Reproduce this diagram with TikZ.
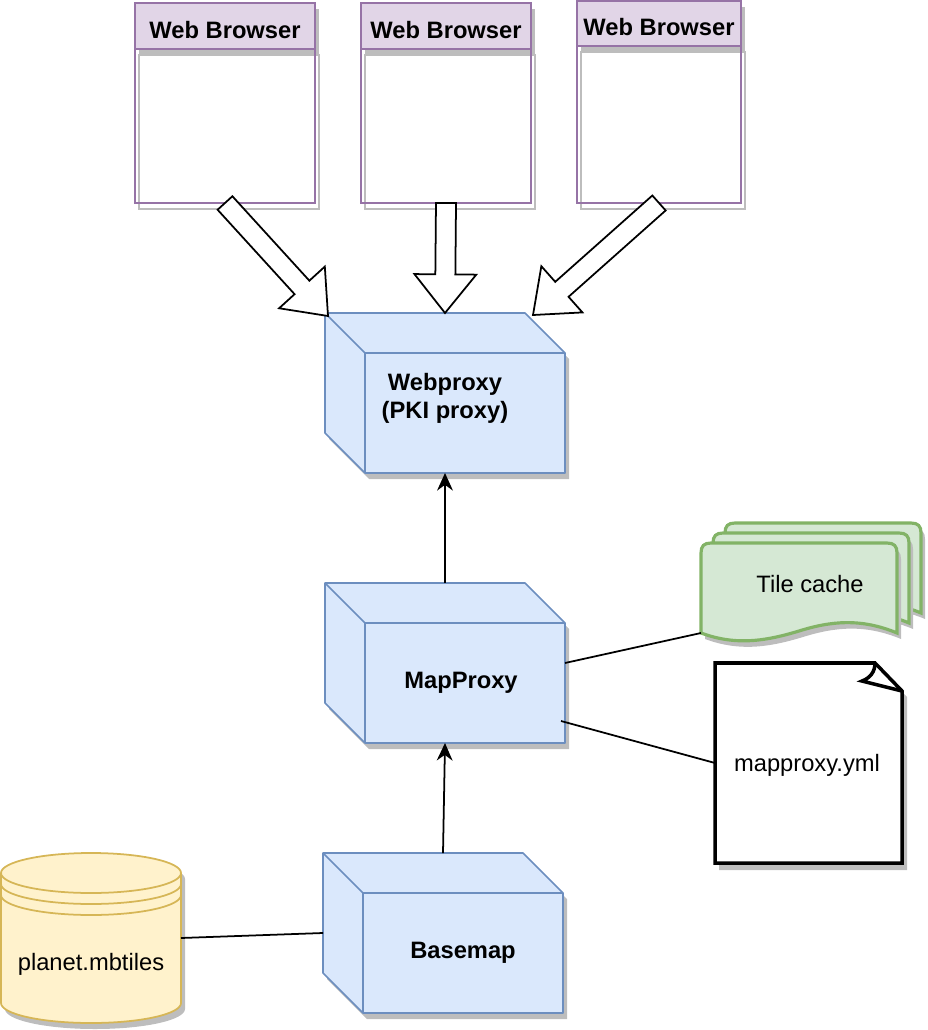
\documentclass[tikz,border=0pt]{standalone}
\usepackage{fontspec}
\setmainfont{Liberation Sans}
\usepackage{tikz}
\usetikzlibrary{arrows.meta, calc, positioning}

\definecolor{shadowgray}{HTML}{BDBDBD}
\definecolor{cubefill}{HTML}{DAE8FC}
\definecolor{cubeline}{HTML}{6C8EBF}
\definecolor{browserfill}{HTML}{E1D5E7}
\definecolor{browserline}{HTML}{9673A6}
\definecolor{tilefill}{HTML}{D5E8D4}
\definecolor{tileline}{HTML}{82B366}
\definecolor{dbfill}{HTML}{FFF2CC}
\definecolor{dbline}{HTML}{D6B656}

\tikzset{
  anchorbox/.style={rectangle, inner sep=0pt, outer sep=0pt},
  labeltext/.style={align=center, inner sep=0pt, font=\fontsize{13.5}{15.9}\selectfont},
  boldtext/.style={labeltext, font=\fontsize{13.5}{15.9}\selectfont\bfseries},
  cubeline/.style={draw=cubeline, line width=0.9pt, line join=round},
  wire/.style={black, line width=1pt},
  blockline/.style={draw=black, fill=white, line width=1pt, line join=miter},
}

% name, centre x, centre y, width, height, header height
\newcommand{\browserbox}[6]{
  \begin{scope}[shift={(#2,#3)}]
    \draw[shadowgray, line width=0.9pt] (-#4/2+4,-#5/2+#6+6) rectangle (#4/2+4,#5/2+6);
    \fill[shadowgray] (-#4/2+4,-#5/2+6) rectangle (#4/2+4,-#5/2+#6+6);
  \end{scope}
  \node[anchorbox, draw=browserline, line width=1.1pt, minimum width=#4*0.02cm, minimum height=#5*0.02cm] (#1) at (#2,#3) {};
  \node[anchorbox, draw=browserline, fill=browserfill, line width=1.1pt, minimum width=#4*0.02cm, minimum height=#6*0.02cm, below=0pt of #1.north] (#1head) {};
  \node[boldtext] (#1label) at ($(#1head.center)+(0,4)$) {Web Browser};
}
% name, centre x, centre y
\newcommand{\cubebox}[3]{
  \begin{scope}[shift={(#2,#3)}]
    \fill[shadowgray] (-116,-74) -- (84,-74) -- (124,-34) -- (124,86) -- (-76,86) -- (-116,46) -- cycle;
    \filldraw[fill=cubefill, cubeline] (-120,-80) -- (80,-80) -- (120,-40) -- (120,80) -- (-80,80) -- (-120,40) -- cycle;
    \draw[cubeline] (-120,-80) -- (-80,-40) -- (120,-40);
    \draw[cubeline] (-80,-40) -- (-80,80);
  \end{scope}
  \node[anchorbox, minimum width=4.8cm, minimum height=3.2cm] (#1) at (#2,#3) {};
}
% tail, tip
\newcommand{\blockarrow}[2]{
  \coordinate (headbase) at ($(#2)!22pt!(#1)$);
  \draw[blockline] ($(#1)!5.7pt!-90:(#2)$) -- ($(headbase)!5.7pt!90:(#1)$) -- ($(headbase)!17.6pt!90:(#1)$) -- (#2)
    -- ($(headbase)!17.6pt!-90:(#1)$) -- ($(headbase)!5.7pt!-90:(#1)$) -- ($(#1)!5.7pt!90:(#2)$) -- cycle;
}

\begin{document}
\begin{tikzpicture}[x=0.02cm, y=-0.02cm, >={Stealth[length=10pt, width=9pt]}]
  \useasboundingbox (0,0) rectangle (928,1030);

  % browsers
  \browserbox{browserone}{225}{103}{180}{200}{46}
  \browserbox{browsertwo}{446}{103}{170}{200}{46}
  \browserbox{browserthree}{659}{102}{164}{202}{45}

  % proxies
  \cubebox{webproxy}{445}{393}
  \cubebox{mapproxy}{445}{663}
  \cubebox{basemap}{443}{933}
  \node[boldtext] (webproxylabel) at (445,398) {Webproxy\\(PKI proxy)};
  \node[boldtext] (mapproxylabel) at (461,683) {MapProxy};
  \node[boldtext] (basemaplabel) at (463,953) {Basemap};

  % tile cache
  \foreach \sx/\sy in {24/-20, 12/-10, 0/0} {
    \begin{scope}[shift={(701+\sx,543+\sy)}]
      \fill[shadowgray, shift={(4,6)}] (0,10) .. controls (0,3) and (3,0) .. (10,0) -- (186,0) .. controls (193,0) and (196,3) .. (196,10) -- (196,90)
        .. controls (160,75) and (130,78) .. (98,88) .. controls (65,98) and (35,103) .. (0,90) -- cycle;
      \filldraw[fill=tilefill, draw=tileline, line width=1.8pt] (0,10) .. controls (0,3) and (3,0) .. (10,0) -- (186,0) .. controls (193,0) and (196,3) .. (196,10) -- (196,90)
        .. controls (160,75) and (130,78) .. (98,88) .. controls (65,98) and (35,103) .. (0,90) -- cycle;
    \end{scope}
  }
  \node[anchorbox, minimum width=3.92cm, minimum height=1.8cm] (tilecache) at (799,588) {};
  \node[labeltext] (tilelabel) at (810,584) {Tile cache};

  % config file
  \fill[shadowgray] (719,669) -- (879,669) -- (907,697) -- (907,870) -- (719,870) -- cycle;
  \filldraw[fill=white, draw=black, line width=2pt, line join=miter] (715,663) -- (875,663) -- (902,691) -- (902,863) -- (715,863) -- cycle;
  \draw[black, line width=2pt, line join=miter] (875,663) .. controls (875,672) and (870,678) .. (862,681) -- (902,691);
  \node[anchorbox, minimum width=3.74cm, minimum height=4cm] (ymlfile) at (808.5,763) {};
  \node[labeltext] (ymllabel) at (807,765) {mapproxy.yml};

  % database
  \begin{scope}[shift={(91,938)}]
    \fill[shadowgray, shift={(4,6)}] (-90,-65) arc[start angle=180, end angle=360, x radius=90, y radius=20] -- (90,65) arc[start angle=0, end angle=180, x radius=90, y radius=20] -- cycle;
    \filldraw[fill=dbfill, draw=dbline, line width=1pt] (-90,-65) arc[start angle=180, end angle=360, x radius=90, y radius=20] -- (90,65) arc[start angle=0, end angle=180, x radius=90, y radius=20] -- cycle;
    \draw[dbline, line width=1pt] (-90,-65) arc[start angle=180, end angle=0, x radius=90, y radius=20];
    \draw[dbline, line width=1pt] (-90,-54) arc[start angle=180, end angle=0, x radius=90, y radius=20];
    \draw[dbline, line width=1pt] (-90,-43) arc[start angle=180, end angle=0, x radius=90, y radius=20];
  \end{scope}
  \node[anchorbox, minimum width=3.6cm, minimum height=3.4cm] (planet) at (91,938) {};
  \node[labeltext] (planetlabel) at (91,964) {planet.mbtiles};

  % block arrows
  \coordinate (tipone) at (328,316);
  \coordinate (tipthree) at (533,315);
  \blockarrow{browserone.south}{tipone}
  \blockarrow{browsertwo.south}{webproxy.north}
  \blockarrow{browserthree.south}{tipthree}

  % connectors
  \coordinate (mapproxyout) at (561,721);
  \draw[->, wire] (mapproxy.north) -- (webproxy.south);
  \draw[->, wire] (basemap.north) -- (mapproxy.south);
  \draw[wire] (mapproxy.east) -- (tilecache.south west);
  \draw[wire] (mapproxyout) -- (ymlfile.west);
  \draw[wire] (planet.east) -- (basemap.west);
\end{tikzpicture}
\end{document}
